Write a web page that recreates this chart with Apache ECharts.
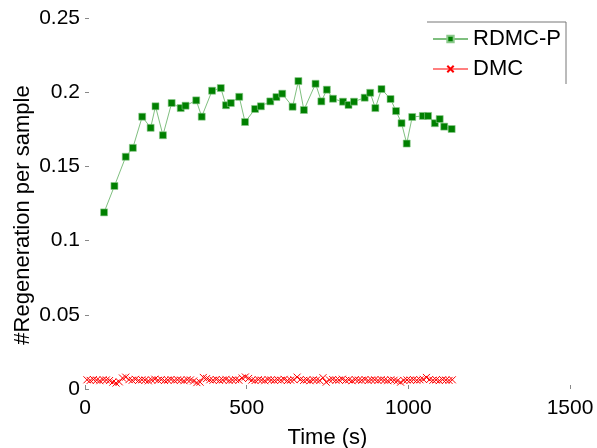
<!DOCTYPE html>
<html>
<head>
<meta charset="utf-8">
<script src="https://cdn.jsdelivr.net/npm/echarts@6/dist/echarts.min.js"></script>
<style>
  html, body { margin: 0; padding: 0; background: #fff; }
  #chart { width: 597px; height: 448px; }
</style>
</head>
<body>
<div id="chart"></div>
<script>
// Regeneration rate over wall-clock time for the two samplers
const rdmcTime = [59, 91, 126, 148, 177, 203, 218, 241, 268, 296, 311, 344, 361, 393, 420, 436, 451, 477, 495, 526, 544, 573, 592, 610, 642, 660, 677, 713, 731, 748, 767, 798, 815, 832, 865, 882, 898, 917, 945, 962, 979, 995, 1012, 1045, 1061, 1082, 1097, 1111, 1134];
const rdmcValue = [0.119, 0.1368, 0.1565, 0.1625, 0.1835, 0.176, 0.1905, 0.171, 0.1927, 0.1893, 0.1909, 0.1945, 0.1835, 0.201, 0.2028, 0.1912, 0.1927, 0.1969, 0.1799, 0.1887, 0.1905, 0.1938, 0.1967, 0.199, 0.1902, 0.2075, 0.188, 0.2057, 0.1938, 0.2017, 0.1956, 0.1936, 0.1914, 0.1936, 0.1963, 0.1996, 0.1893, 0.2021, 0.1954, 0.1873, 0.1791, 0.1654, 0.1833, 0.184, 0.184, 0.1791, 0.1819, 0.1768, 0.1752];

const dmcTime = [6, 16, 26, 36, 46, 56, 66, 76, 86, 96, 106, 116, 126, 136, 146, 156, 166, 176, 186, 196, 206, 216, 226, 236, 246, 256, 266, 276, 286, 296, 306, 316, 326, 336, 346, 356, 366, 376, 386, 396, 406, 416, 426, 436, 446, 456, 466, 476, 486, 496, 506, 516, 526, 536, 546, 556, 566, 576, 586, 596, 606, 616, 626, 636, 646, 656, 666, 676, 686, 696, 706, 716, 726, 736, 746, 756, 766, 776, 786, 796, 806, 816, 826, 836, 846, 856, 866, 876, 886, 896, 906, 916, 926, 936, 946, 956, 966, 976, 986, 996, 1006, 1016, 1026, 1036, 1046, 1056, 1066, 1076, 1086, 1096, 1106, 1116, 1126, 1136];
const dmcValue = [0.0062, 0.0058, 0.0064, 0.0060, 0.0056, 0.0063, 0.0061, 0.0057, 0.0046, 0.0040,
                  0.0048, 0.0074, 0.0080, 0.0063, 0.0059, 0.0065, 0.0058, 0.0062, 0.0060, 0.0055,
                  0.0061, 0.0066, 0.0059, 0.0063, 0.0057, 0.0060, 0.0064, 0.0058, 0.0062, 0.0060,
                  0.0056, 0.0063, 0.0061, 0.0054, 0.0043, 0.0046, 0.0078, 0.0070, 0.0062, 0.0059,
                  0.0064, 0.0058, 0.0061, 0.0065, 0.0057, 0.0060, 0.0063, 0.0059, 0.0074, 0.0081,
                  0.0071, 0.0060, 0.0057, 0.0063, 0.0060, 0.0056, 0.0064, 0.0061, 0.0058, 0.0062,
                  0.0059, 0.0065, 0.0057, 0.0060, 0.0063, 0.0080, 0.0064, 0.0058, 0.0061, 0.0056,
                  0.0062, 0.0060, 0.0057, 0.0076, 0.0046, 0.0061, 0.0064, 0.0059, 0.0060, 0.0066,
                  0.0058, 0.0062, 0.0056, 0.0063, 0.0060, 0.0059, 0.0064, 0.0057, 0.0061, 0.0062,
                  0.0058, 0.0063, 0.0060, 0.0056, 0.0062, 0.0059, 0.0055, 0.0046, 0.0058, 0.0061,
                  0.0060, 0.0063, 0.0059, 0.0062, 0.0065, 0.0078, 0.0064, 0.0059, 0.0061, 0.0057,
                  0.0063, 0.0060, 0.0058, 0.0062];

const xTicks = [0, 500, 1000, 1500];
const yTicks = [0, 0.05, 0.1, 0.15, 0.2, 0.25];

const FONT = '"Liberation Sans", Arial, Helvetica, sans-serif';
const pair = (xs, ys) => xs.map((x, i) => [x, ys[i]]);

const chart = echarts.init(document.getElementById('chart'), null, { renderer: 'canvas' });

chart.setOption({
  animation: false,
  backgroundColor: '#ffffff',
  grid: { left: 85, right: 27, top: 18, bottom: 59, containLabel: false, outerBoundsMode: 'none' },
  xAxis: {
    type: 'value',
    min: xTicks[0],
    max: xTicks[xTicks.length - 1],
    interval: 500,
    name: 'Time (s)',
    nameLocation: 'middle',
    nameGap: 38,
    nameTextStyle: { fontFamily: FONT, fontSize: 22, color: '#000' },
    axisLine: { show: false },
    axisTick: { show: true, inside: true, length: 4, lineStyle: { color: '#888', width: 1 } },
    axisLabel: { fontFamily: FONT, fontSize: 21, color: '#000', margin: 9, formatter: v => String(v) },
    splitLine: { show: false }
  },
  yAxis: {
    type: 'value',
    min: yTicks[0],
    max: yTicks[yTicks.length - 1],
    interval: 0.05,
    axisLine: { show: false },
    axisTick: { show: true, inside: true, length: 4, lineStyle: { color: '#888', width: 1 } },
    axisLabel: {
      fontFamily: FONT, fontSize: 21, color: '#000', margin: 5,
      formatter: v => String(parseFloat(v.toFixed(2)))
    },
    splitLine: { show: false }
  },
  legend: {
    orient: 'vertical',
    left: 427,
    top: 23,
    itemWidth: 35,
    itemHeight: 8,
    itemGap: 8,
    textStyle: { fontFamily: FONT, fontSize: 22, color: '#000' },
    data: ['RDMC-P', 'DMC']
  },
  graphic: [
    {
      type: 'polyline',
      silent: true,
      shape: { points: [[427, 22], [566, 22], [566, 84]] },
      style: { stroke: '#777', lineWidth: 1, fill: null }
    },
    {
      type: 'text',
      silent: true,
      x: 23,
      y: 215,
      rotation: Math.PI / 2,
      style: {
        text: '#Regeneration per sample',
        font: '22px ' + FONT,
        fill: '#000',
        align: 'center',
        verticalAlign: 'middle'
      }
    }
  ],
  series: [
    {
      name: 'RDMC-P',
      type: 'line',
      data: pair(rdmcTime, rdmcValue),
      symbol: 'rect',
      symbolSize: 7,
      showAllSymbol: true,
      lineStyle: { color: '#008000', width: 1, opacity: 0.5 },
      itemStyle: { color: '#008000', borderColor: '#8cc98c', borderWidth: 0.6 },
      z: 3
    },
    {
      name: 'DMC',
      type: 'line',
      data: pair(dmcTime, dmcValue),
      symbol: 'path://M0,0L10,10M10,0L0,10',
      symbolSize: 7,
      showAllSymbol: true,
      lineStyle: { color: '#ff0000', width: 0.8, opacity: 0.5 },
      itemStyle: { color: '#ff0000', borderColor: '#ff0000', borderWidth: 1 },
      z: 2
    }
  ]
});
</script>
</body>
</html>
